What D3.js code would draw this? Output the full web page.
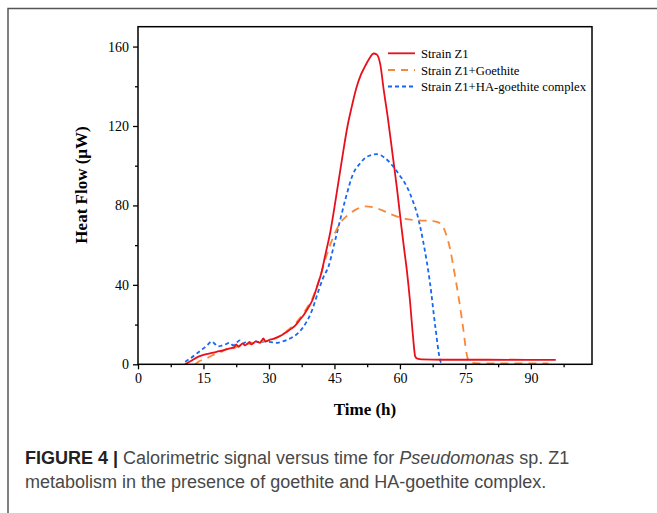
<!DOCTYPE html>
<html>
<head>
<meta charset="utf-8">
<script src="https://cdn.jsdelivr.net/npm/d3@7"></script>
<style>
  html, body { margin: 0; padding: 0; background: #fff; }
  svg { display: block; }
</style>
</head>
<body>
<svg id="chart" width="657" height="513"></svg>
<script>
// ---- Data ----
const seriesNames = ["Strain Z1", "Strain Z1+Goethite", "Strain Z1+HA-goethite complex"];
const seriesColors = ["#e8101c", "#f7883a", "#1768f0"];
const seriesDash = [null, "8,6", "4,3"];

const z1Time = [10.8,12,13.5,15,16.5,18,19.5,21,22,22.5,23,24,24.5,25.5,26,27,28,28.7,29.2,30,31,32,33,34,35,36,37,38,39,40,41,42,43,44,45,46,47,48,49,50,51,52,53,54,54.7,55.5,56.3,57.3,58.3,59.3,60.3,61,61.6,62.3,63,63.5,64,65,70,80,95.7];
const z1Flow = [0,1.5,3.5,4.7,5.5,6.3,7,8,8.5,10,8.8,10.5,9.5,11,10,11.5,10.8,13,11.5,12.2,12.8,13.7,14.8,16.2,17.7,19.5,22.2,25,28.5,32.5,39,46,56,66,79,93,107,120,130,139,145.5,150,154,156.5,156,151,138,123,106,89,70,57.5,47,32,14,4,2.8,2.5,2.3,2.3,2.2];

const goeTime = [13.1,14,15.7,17,18.5,20,21,22,23,24,25,26,27,28,29,30,31,32,33,34,35,36,37,38,39,40,41,42,43,44,45,46,48,50,52,54,56,58,60,62,64,66,68,69.5,70.5,71.5,72.5,73.5,74.5,75.3,76,78,94];
const goeFlow = [0,1.5,3,4.5,5.7,7.3,8.5,8.2,9.3,9.8,10.2,10.6,11,11.5,11.6,11.8,12.6,13.6,15,16.6,18.4,20.5,23,26,29.5,33.5,39,46,53.5,60,65.5,70,75,78,79.5,79,77.5,75.5,74,73,72.5,72.3,72,70.5,66,58,46,33,18,5,1,0.5,0.5];

const haTime = [10.8,12,13.5,15,16,16.9,17.5,18.3,19,20,21,21.8,22.5,23.3,24,25,26,27,28,29,30,31,32,33,34,35.5,37,38.5,40,40.6,41.5,42.5,43.6,45,46.3,47.5,49.3,51,52.4,54.7,56.5,58.5,60,61.6,63,63.9,65.4,66.9,68.1,69.2,69.6];
const haFlow = [1.3,3,5.5,8,10,11.5,10.5,9,9.3,10,10.8,9.5,10.7,12,10.5,11.5,10.8,11.5,11,11.5,11.3,11,10.8,11.4,12.2,13.8,16.4,21,28,32,38,44,49,61,72.6,83,96,101.5,104.5,105.8,104,99.5,95,89.4,82,76,61,40.8,19,2.2,0];

const xMajorTicks = [0, 15, 30, 45, 60, 75, 90];
const xMinorTicks = [7.5, 22.5, 37.5, 52.5, 67.5, 82.5, 97.5];
const yMajorTicks = [0, 40, 80, 120, 160];
const yMinorTicks = [20, 60, 100, 140];

const xTitle = "Time (h)";
const yTitle = "Heat Flow (\u03bcW)";
const captionBold = "FIGURE 4 | ";
const caption1 = "Calorimetric signal versus time for ";
const captionItalic = "Pseudomonas";
const caption1b = " sp. Z1";
const caption2 = "metabolism in the presence of goethite and HA-goethite complex.";

// ---- Drawing ----
const svg = d3.select("#chart");
const serif = "'Liberation Serif', 'Times New Roman', serif";
const sans = "'Liberation Sans', Arial, sans-serif";

// outer figure frame (top + left)
svg.append("path")
  .attr("d", "M8,513 L8,8.5 L657,8.5")
  .attr("fill", "none").attr("stroke", "#555").attr("stroke-width", 1.5);

const L = 138, R = 592, T = 26.7, B = 364.3;
const x = d3.scaleLinear().domain([0, 104]).range([L, R]);
const y = d3.scaleLinear().domain([0, 170]).range([B, T]);

// series
const series = [
  { t: z1Time, f: z1Flow },
  { t: goeTime, f: goeFlow },
  { t: haTime, f: haFlow }
];
const line = d3.line().x(d => x(d[0])).y(d => y(d[1])).curve(d3.curveMonotoneX);

const drawOrder = [2, 1, 0];
drawOrder.forEach(i => {
  const s = series[i];
  const pts = s.t.map((t, k) => [t, s.f[k]]);
  svg.append("path")
    .datum(pts)
    .attr("d", line)
    .attr("fill", "none")
    .attr("stroke", seriesColors[i])
    .attr("stroke-width", 1.8)
    .attr("stroke-dasharray", seriesDash[i])
    .attr("stroke-linejoin", "round");
});

// axes
const xAxis = svg.append("g").attr("transform", `translate(0,${B})`)
  .call(d3.axisBottom(x).tickValues(xMajorTicks).tickSize(5).tickSizeOuter(0).tickPadding(4));
const xAxisMinor = svg.append("g").attr("transform", `translate(0,${B})`)
  .call(d3.axisBottom(x).tickValues(xMinorTicks).tickSize(3).tickSizeOuter(0).tickFormat(""));
const yAxis = svg.append("g").attr("transform", `translate(${L},0)`)
  .call(d3.axisLeft(y).tickValues(yMajorTicks).tickSize(5).tickSizeOuter(0).tickPadding(4));
const yAxisMinor = svg.append("g").attr("transform", `translate(${L},0)`)
  .call(d3.axisLeft(y).tickValues(yMinorTicks).tickSize(3).tickSizeOuter(0).tickFormat(""));

[xAxis, xAxisMinor, yAxis, yAxisMinor].forEach(g => {
  g.select(".domain").remove();
  g.selectAll("line").attr("stroke", "#000").attr("stroke-width", 1.3);
  g.selectAll("text").attr("font-family", serif).attr("font-size", 14).attr("fill", "#000");
});

// plot box
svg.append("rect")
  .attr("x", L).attr("y", T).attr("width", R - L).attr("height", B - T)
  .attr("fill", "none").attr("stroke", "#000").attr("stroke-width", 1.5);

// axis titles
svg.append("text")
  .attr("x", 365).attr("y", 415)
  .attr("text-anchor", "middle")
  .attr("font-family", serif).attr("font-weight", "bold").attr("font-size", 17)
  .text(xTitle);
svg.append("text")
  .attr("transform", "translate(87,185) rotate(-90)")
  .attr("text-anchor", "middle")
  .attr("font-family", serif).attr("font-weight", "bold").attr("font-size", 17)
  .text(yTitle);

// legend
const legY = [53.3, 70, 86.5];
seriesNames.forEach((name, i) => {
  svg.append("line")
    .attr("x1", 388).attr("x2", 415)
    .attr("y1", legY[i]).attr("y2", legY[i])
    .attr("stroke", seriesColors[i]).attr("stroke-width", 1.8)
    .attr("stroke-dasharray", i === 1 ? "7,6" : seriesDash[i]);
  svg.append("text")
    .attr("x", 421).attr("y", legY[i] + 4.5)
    .attr("font-family", serif).attr("font-size", 12.7).attr("fill", "#000")
    .text(name);
});

// caption
const cap = svg.append("text")
  .attr("font-family", sans).attr("font-size", 18).attr("fill", "#484848");
const t1 = cap.append("tspan").attr("x", 25).attr("y", 464);
t1.append("tspan").attr("font-weight", "bold").attr("fill", "#222").text(captionBold);
t1.append("tspan").text(caption1);
t1.append("tspan").attr("font-style", "italic").text(captionItalic);
t1.append("tspan").text(caption1b);
cap.append("tspan").attr("x", 25).attr("y", 488).text(caption2);
</script>
</body>
</html>
